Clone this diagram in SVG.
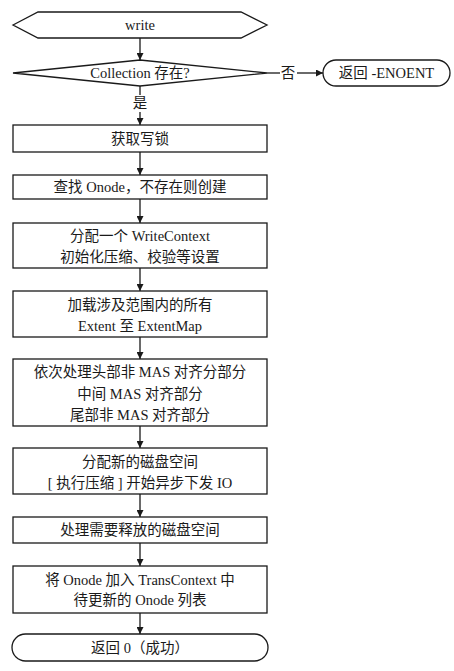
<svg xmlns="http://www.w3.org/2000/svg" width="454" height="671" viewBox="0 0 454 671">
<style>
.s{fill:#fff;stroke:#1a1a1a;stroke-width:1.3}
.t{font-family:"Liberation Serif","Noto Sans CJK SC",serif;font-size:14.5px;fill:#1a1a1a;text-anchor:middle;dominant-baseline:central}
.c{stroke:#1a1a1a;stroke-width:1.3;fill:none}
</style>
<defs>
<marker id="ah" viewBox="0 0 10 10" refX="10" refY="5" markerWidth="7" markerHeight="7" markerUnits="userSpaceOnUse" orient="auto">
<path d="M0,0 L10,5 L0,10 z" fill="#1a1a1a"/>
</marker>
</defs>
<rect width="454" height="671" fill="#fff"/>
<g id="connectors">
<line class="c" x1="140" y1="38" x2="140" y2="60" marker-end="url(#ah)"/>
<line class="c" x1="267" y1="73" x2="280" y2="73"/>
<line class="c" x1="297" y1="73" x2="323" y2="73" marker-end="url(#ah)"/>
<line class="c" x1="140" y1="86" x2="140" y2="95"/>
<line class="c" x1="140" y1="112" x2="140" y2="125" marker-end="url(#ah)"/>
<line class="c" x1="140" y1="152" x2="140" y2="175" marker-end="url(#ah)"/>
<line class="c" x1="140" y1="199" x2="140" y2="223" marker-end="url(#ah)"/>
<line class="c" x1="140" y1="268" x2="140" y2="291" marker-end="url(#ah)"/>
<line class="c" x1="140" y1="337" x2="140" y2="359" marker-end="url(#ah)"/>
<line class="c" x1="140" y1="426" x2="140" y2="448" marker-end="url(#ah)"/>
<line class="c" x1="140" y1="494" x2="140" y2="517" marker-end="url(#ah)"/>
<line class="c" x1="140" y1="543" x2="140" y2="566" marker-end="url(#ah)"/>
<line class="c" x1="140" y1="613" x2="140" y2="634" marker-end="url(#ah)"/>
<text class="t" x="288" y="73">否</text>
<text class="t" x="140" y="103">是</text>
</g>
<g id="start">
<polygon class="s" points="13,25 38,12 241,12 267,25 241,38 38,38"/>
<text class="t" x="140" y="25">write</text>
</g>
<g id="decision">
<polygon class="s" points="13,73 140,60 267,73 140,86"/>
<text class="t" x="140" y="73">Collection 存在?</text>
</g>
<g id="enoent">
<rect class="s" x="323" y="60" width="127" height="26" rx="13"/>
<text class="t" x="386.5" y="73">返回 -ENOENT</text>
</g>
<g id="n1">
<rect class="s" x="13" y="125" width="254" height="27"/>
<text class="t" x="140" y="138.5">获取写锁</text>
</g>
<g id="n2">
<rect class="s" x="13" y="175" width="254" height="24"/>
<text class="t" x="140" y="187">查找 Onode，不存在则创建</text>
</g>
<g id="n3">
<rect class="s" x="13" y="223" width="254" height="45"/>
<text class="t" x="140" y="236">分配一个 WriteContext</text>
<text class="t" x="140" y="256.5">初始化压缩、校验等设置</text>
</g>
<g id="n4">
<rect class="s" x="13" y="291" width="254" height="46"/>
<text class="t" x="140" y="304.5">加载涉及范围内的所有</text>
<text class="t" x="140" y="326">Extent 至 ExtentMap</text>
</g>
<g id="n5">
<rect class="s" x="13" y="359" width="254" height="67"/>
<text class="t" x="140" y="372">依次处理头部非 MAS 对齐分部分</text>
<text class="t" x="140" y="393.5">中间 MAS 对齐部分</text>
<text class="t" x="140" y="415">尾部非 MAS 对齐部分</text>
</g>
<g id="n6">
<rect class="s" x="13" y="448" width="254" height="46"/>
<text class="t" x="140" y="461.5">分配新的磁盘空间</text>
<text class="t" x="140" y="483">[ 执行压缩 ] 开始异步下发 IO</text>
</g>
<g id="n7">
<rect class="s" x="13" y="517" width="254" height="26"/>
<text class="t" x="140" y="530">处理需要释放的磁盘空间</text>
</g>
<g id="n8">
<rect class="s" x="13" y="566" width="254" height="47"/>
<text class="t" x="140" y="579.5">将 Onode 加入 TransContext 中</text>
<text class="t" x="140" y="600">待更新的 Onode 列表</text>
</g>
<g id="end">
<rect class="s" x="12" y="634" width="256" height="27" rx="13.5"/>
<text class="t" x="140" y="647.5">返回 0（成功）</text>
</g>
</svg>
